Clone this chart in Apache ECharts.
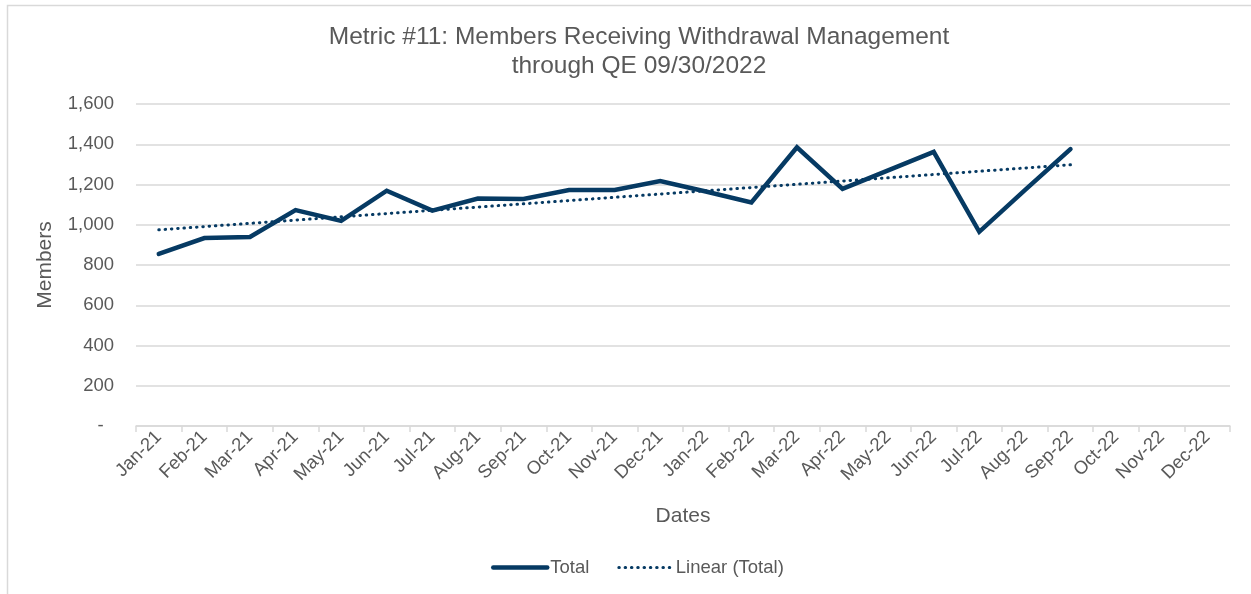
<!DOCTYPE html>
<html>
<head>
<meta charset="utf-8">
<script src="https://cdn.jsdelivr.net/npm/echarts@6/dist/echarts.min.js"></script>
<style>
  html, body { margin: 0; padding: 0; background: #ffffff; }
  #chart { width: 1251px; height: 594px; }
</style>
</head>
<body>
<div id="chart"></div>
<script>
// Monthly categories on the x axis
const months = [
  'Jan-21', 'Feb-21', 'Mar-21', 'Apr-21', 'May-21', 'Jun-21',
  'Jul-21', 'Aug-21', 'Sep-21', 'Oct-21', 'Nov-21', 'Dec-21',
  'Jan-22', 'Feb-22', 'Mar-22', 'Apr-22', 'May-22', 'Jun-22',
  'Jul-22', 'Aug-22', 'Sep-22', 'Oct-22', 'Nov-22', 'Dec-22'
];

// Members receiving withdrawal management, by month (through Sep-22)
const totalMembers = [
  855, 934, 939, 1073, 1019, 1169,
  1070, 1130, 1128, 1173, 1173, 1217,
  1165, 1111, 1385, 1178, 1270, 1362,
  965, 1172, 1376
];

// Y axis ticks
const yTicks = [0, 200, 400, 600, 800, 1000, 1200, 1400, 1600];

// Least-squares linear trend of the Total series
function linearTrend(values) {
  const n = values.length;
  let sx = 0, sy = 0, sxy = 0, sxx = 0;
  values.forEach((v, i) => { sx += i; sy += v; sxy += i * v; sxx += i * i; });
  const slope = (n * sxy - sx * sy) / (n * sxx - sx * sx);
  const icpt = (sy - slope * sx) / n;
  return values.map((_, i) => +(icpt + slope * i).toFixed(2));
}
const trend = linearTrend(totalMembers);

const TEXT = '#595959';
const NAVY = '#063a63';
const FONT = '"Liberation Sans", Arial, sans-serif';

const chart = echarts.init(document.getElementById('chart'), null, { renderer: 'canvas' });

chart.setOption({
  backgroundColor: '#ffffff',
  textStyle: { fontFamily: FONT },
  animation: false,
  graphic: [{
    type: 'rect',
    shape: { x: 7.5, y: 5.5, width: 1400, height: 800 },
    style: { fill: 'none', stroke: '#d9d9d9', lineWidth: 1.5 },
    silent: true,
    z: -1
  }],
  title: {
    text: 'Metric #11: Members Receiving Withdrawal Management\nthrough QE 09/30/2022',
    left: 634,
    textAlign: 'center',
    top: 18,
    textStyle: {
      fontFamily: FONT,
      fontSize: 24.5,
      fontWeight: 'normal',
      color: TEXT,
      lineHeight: 29
    }
  },
  legend: {
    bottom: 12,
    left: 486,
    itemWidth: 54,
    itemHeight: 14,
    itemGap: 28,
    itemStyle: { opacity: 0 },
    textStyle: { fontFamily: FONT, fontSize: 18.5, color: TEXT, padding: [0, 0, 0, -2] },
    data: [
      { name: 'Total', lineStyle: { width: 4.5, color: NAVY, cap: 'round' } },
      { name: 'Linear (Total)', lineStyle: { width: 3, color: NAVY, type: [0.5, 5.8], cap: 'round' } }
    ]
  },
  grid: { left: 136, right: 21, top: 104, bottom: 168, containLabel: false },
  xAxis: {
    type: 'category',
    data: months,
    boundaryGap: true,
    name: 'Dates',
    nameLocation: 'middle',
    nameGap: 80,
    nameTextStyle: { fontFamily: FONT, fontSize: 21, color: TEXT },
    axisLine: { show: true, lineStyle: { color: '#d9d9d9', width: 1.5 } },
    axisTick: { show: true, length: 6, lineStyle: { color: '#d9d9d9', width: 1.5 } },
    axisLabel: {
      interval: 0,
      rotate: 45,
      margin: 8,
      fontFamily: FONT,
      fontSize: 18.5,
      color: TEXT
    },
    splitLine: { show: false }
  },
  yAxis: {
    type: 'value',
    min: yTicks[0],
    max: yTicks[yTicks.length - 1],
    interval: 200,
    name: 'Members',
    nameLocation: 'middle',
    nameRotate: 90,
    nameGap: 80,
    nameTextStyle: { fontFamily: FONT, fontSize: 21, color: TEXT },
    axisLine: { show: false },
    axisTick: { show: false },
    axisLabel: {
      margin: 22,
      fontFamily: FONT,
      fontSize: 18.5,
      color: TEXT,
      formatter: v => v === 0 ? '-  ' : v.toLocaleString('en-US')
    },
    splitLine: { show: true, lineStyle: { color: '#d9d9d9', width: 1.5 } }
  },
  series: [
    {
      name: 'Total',
      type: 'line',
      data: totalMembers,
      symbol: 'none',
      lineStyle: { color: NAVY, width: 4.5, join: 'miter', cap: 'round' },
      itemStyle: { color: NAVY },
      z: 3
    },
    {
      name: 'Linear (Total)',
      type: 'line',
      data: trend,
      symbol: 'none',
      lineStyle: { color: NAVY, width: 3, type: [0.5, 5.8], cap: 'round' },
      itemStyle: { color: NAVY },
      z: 2
    }
  ]
});
</script>
</body>
</html>
